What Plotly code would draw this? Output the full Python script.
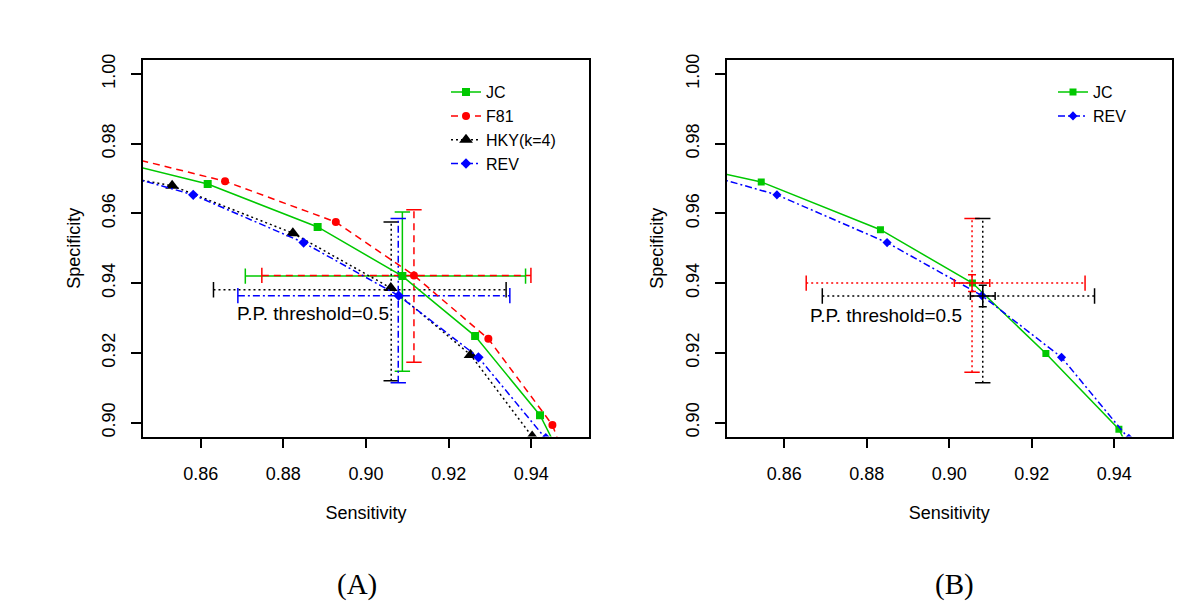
import plotly.graph_objects as go

# ---------------- data ----------------
# Panel A ROC curves (first/last point are off-range curve ends; markers on inner points)
a_jc_x = [0.840, 0.8617, 0.8883, 0.9088, 0.9264, 0.9421, 0.9460]
a_jc_y = [0.9748, 0.9684, 0.9561, 0.9420, 0.9248, 0.9021, 0.8930]
a_f81_x = [0.840, 0.8659, 0.8927, 0.9116, 0.9296, 0.9451, 0.9471]
a_f81_y = [0.9768, 0.9692, 0.9575, 0.9422, 0.9240, 0.8993, 0.8930]
a_hky_x = [0.840, 0.8531, 0.8823, 0.9060, 0.9253, 0.9402, 0.9421]
a_hky_y = [0.9707, 0.9679, 0.9543, 0.9386, 0.9194, 0.8960, 0.8930]
rev_x = [0.840, 0.8582, 0.8849, 0.9079, 0.9272, 0.9435, 0.9455]
rev_y = [0.9714, 0.9653, 0.9516, 0.9364, 0.9187, 0.8955, 0.8925]

# Panel B JC curve
b_jc_x = [0.840, 0.8544, 0.8833, 0.9056, 0.9234, 0.9411, 0.9432]
b_jc_y = [0.9727, 0.9690, 0.9553, 0.9400, 0.9198, 0.8981, 0.8930]

# Panel A intervals at P.P. threshold = 0.5: center x, center y, x-lo, x-hi, y-lo, y-hi
a_int = {
    "JC":  [0.9088, 0.9420, 0.8708, 0.9386, 0.9147, 0.9604],
    "F81": [0.9116, 0.9422, 0.8748, 0.9399, 0.9173, 0.9610],
    "HKY": [0.9061, 0.9381, 0.8631, 0.9339, 0.9120, 0.9575],
    "REV": [0.9078, 0.9364, 0.8690, 0.9348, 0.9114, 0.9585],
}
# Panel B intervals
b_int = {
    "JC":  [0.9055, 0.9400, 0.8653, 0.9329, 0.9144, 0.9585],
    "REV": [0.9081, 0.9363, 0.8692, 0.9352, 0.9114, 0.9585],
}
# Panel B standard errors (x, y)
b_se = {"JC": [0.0043, 0.0024], "REV": [0.0030, 0.0031]}

x_ticks = [0.86, 0.88, 0.90, 0.92, 0.94]
y_ticks = [0.90, 0.92, 0.94, 0.96, 0.98, 1.00]
x_range = [0.846, 0.954]
y_range = [0.896, 1.004]
threshold_label = "P.P. threshold=0.5"
a_label_pos = [0.8871, 0.9312]
b_label_pos = [0.8846, 0.9306]

# ---------------- styles ----------------
GREEN = "#00c800"
RED = "#ff0000"
BLUE = "#0000ff"
BLACK = "#000000"
FONT = "Liberation Sans, Arial, sans-serif"
DASH = "7px,5px"
DOT = "2px,3px"
DOTDASH = "7px,3px,2px,3px"
LW = 1.5

fig = go.Figure()


def curve(xs, ys, color, dash, symbol, msize, name, xa, ya, legend):
    fig.add_trace(go.Scatter(x=xs, y=ys, mode="lines", line=dict(color=color, width=LW, dash=dash),
                             xaxis=xa, yaxis=ya, showlegend=False, hoverinfo="skip"))
    fig.add_trace(go.Scatter(x=xs[1:-1], y=ys[1:-1], mode="markers",
                             marker=dict(color=color, symbol=symbol, size=msize),
                             xaxis=xa, yaxis=ya, showlegend=False, cliponaxis=True))
    fig.add_trace(go.Scatter(x=[None], y=[None], mode="lines+markers", name=name,
                             line=dict(color=color, width=LW, dash=dash),
                             marker=dict(color=color, symbol=symbol, size=msize),
                             xaxis=xa, yaxis=ya, legend=legend))


def interval(iv, color, dash, xa, ya):
    cx, cy, xlo, xhi, ylo, yhi = iv
    fig.add_trace(go.Scatter(x=[xlo, xhi], y=[cy, cy], mode="lines+markers",
                             line=dict(color=color, width=LW, dash=dash),
                             marker=dict(symbol="line-ns-open", size=11, line=dict(color=color, width=LW)),
                             xaxis=xa, yaxis=ya, showlegend=False, hoverinfo="skip"))
    fig.add_trace(go.Scatter(x=[cx, cx], y=[ylo, yhi], mode="lines+markers",
                             line=dict(color=color, width=LW, dash=dash),
                             marker=dict(symbol="line-ew-open", size=11, line=dict(color=color, width=LW)),
                             xaxis=xa, yaxis=ya, showlegend=False, hoverinfo="skip"))


# Panel A
interval(a_int["JC"], GREEN, "solid", "x", "y")
interval(a_int["HKY"], BLACK, DOT, "x", "y")
interval(a_int["REV"], BLUE, DOTDASH, "x", "y")
interval(a_int["F81"], RED, DASH, "x", "y")
curve(a_jc_x, a_jc_y, GREEN, "solid", "square", 8, "JC", "x", "y", "legend")
curve(a_f81_x, a_f81_y, RED, DASH, "circle", 8, "F81", "x", "y", "legend")
curve(a_hky_x, a_hky_y, BLACK, DOT, "triangle-up", 12, "HKY(k=4)", "x", "y", "legend")
curve(rev_x, rev_y, BLUE, DOTDASH, "diamond", 8, "REV", "x", "y", "legend")

# Panel B
interval(b_int["JC"], RED, DOT, "x2", "y2")
interval(b_int["REV"], BLACK, DOT, "x2", "y2")
curve(b_jc_x, b_jc_y, GREEN, "solid", "square", 7, "JC", "x2", "y2", "legend2")
curve(rev_x, rev_y, BLUE, DOTDASH, "diamond", 7, "REV", "x2", "y2", "legend2")
for key, color in (("JC", RED), ("REV", BLACK)):
    cx, cy = b_int[key][0], b_int[key][1]
    ex, ey = b_se[key]
    fig.add_trace(go.Scatter(x=[cx], y=[cy], mode="markers", marker=dict(size=1, color="rgba(0,0,0,0)"),
                             error_x=dict(type="data", array=[ex], color=color, thickness=LW, width=4),
                             error_y=dict(type="data", array=[ey], color=color, thickness=LW, width=4),
                             xaxis="x2", yaxis="y2", showlegend=False, hoverinfo="skip"))

axis_common = dict(showline=True, mirror=True, linecolor=BLACK, linewidth=LW, ticks="outside",
                   ticklen=10, tickwidth=LW, tickcolor=BLACK, showgrid=False, zeroline=False,
                   tickformat=".2f", tickfont=dict(family=FONT, size=18, color=BLACK))

xdomA = [142.8 / 1200, 589.2 / 1200]
xdomB = [726.6 / 1200, 1172.1 / 1200]
ydom = [1 - 435.5 / 612, 1 - 54.5 / 612]
title_font = dict(family=FONT, size=18, color=BLACK)

fig.update_layout(
    width=1200, height=612, margin=dict(l=0, r=0, t=0, b=0),
    paper_bgcolor="white", plot_bgcolor="white",
    xaxis=dict(domain=xdomA, range=x_range, tickvals=x_ticks, anchor="y",
               title=dict(text="Sensitivity", font=title_font, standoff=24),
               ticklabelstandoff=10, **axis_common),
    yaxis=dict(domain=ydom, range=y_range, tickvals=y_ticks, anchor="x", tickangle=-90,
               title=dict(text="Specificity", font=title_font, standoff=14),
               ticklabelstandoff=9, **axis_common),
    xaxis2=dict(domain=xdomB, range=x_range, tickvals=x_ticks, anchor="y2",
                title=dict(text="Sensitivity", font=title_font, standoff=24),
                ticklabelstandoff=10, **axis_common),
    yaxis2=dict(domain=ydom, range=y_range, tickvals=y_ticks, anchor="x2", tickangle=-90,
                title=dict(text="Specificity", font=title_font, standoff=14),
                ticklabelstandoff=9, **axis_common),
    legend=dict(x=446 / 1200, y=1 - 70 / 612, xanchor="left", yanchor="top", bgcolor="rgba(0,0,0,0)",
                font=dict(family=FONT, size=16, color=BLACK), tracegroupgap=0),
    legend2=dict(x=1053 / 1200, y=1 - 70 / 612, xanchor="left", yanchor="top", bgcolor="rgba(0,0,0,0)",
                 font=dict(family=FONT, size=16, color=BLACK), tracegroupgap=0),
    annotations=[
        dict(x=a_label_pos[0], y=a_label_pos[1], xref="x", yref="y", text=threshold_label,
             showarrow=False, font=dict(family=FONT, size=19, color=BLACK)),
        dict(x=b_label_pos[0], y=b_label_pos[1], xref="x2", yref="y2", text=threshold_label,
             showarrow=False, font=dict(family=FONT, size=19, color=BLACK)),
        dict(x=357 / 1200, y=1 - 585 / 612, xref="paper", yref="paper", text="(A)", showarrow=False,
             xanchor="center", yanchor="middle",
             font=dict(family="Liberation Serif, Times New Roman, serif", size=29, color=BLACK)),
        dict(x=955 / 1200, y=1 - 585 / 612, xref="paper", yref="paper", text="(B)", showarrow=False,
             xanchor="center", yanchor="middle",
             font=dict(family="Liberation Serif, Times New Roman, serif", size=29, color=BLACK)),
    ],
)

fig.write_html("out.html", config={"displayModeBar": False},
               post_script="document.body.style.margin='0';document.body.style.overflow='hidden';")
